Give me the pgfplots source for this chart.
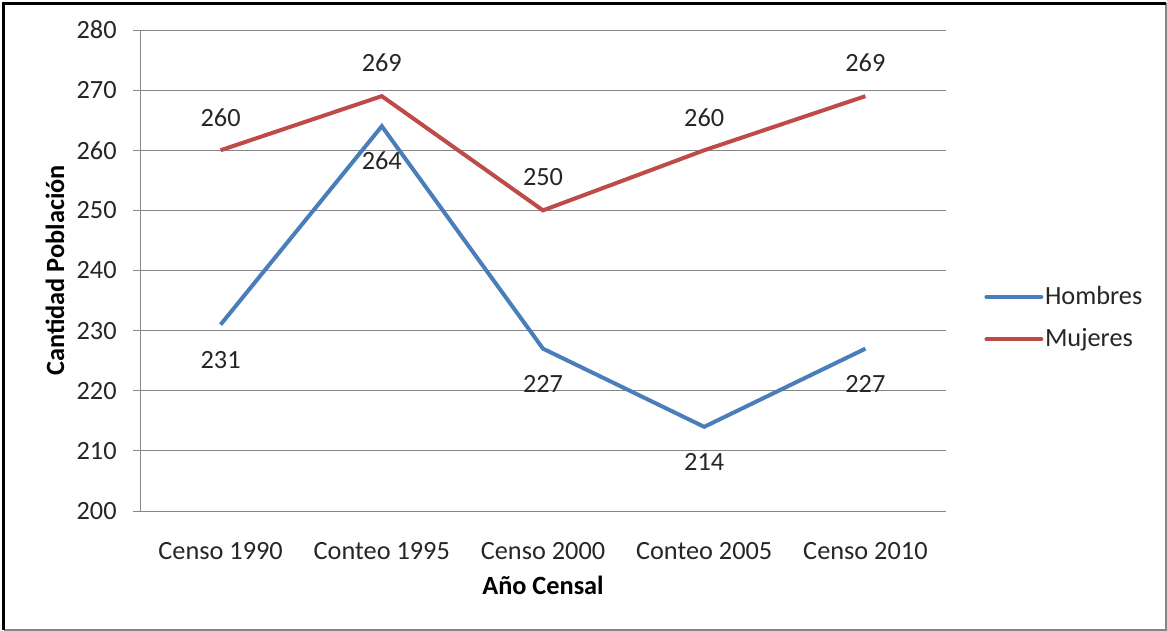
\documentclass[border=0pt]{standalone}
\usepackage{pgfplots}
\pgfplotsset{compat=1.18}
\usepackage{fontspec}
\setmainfont{Carlito}
\definecolor{sblue}{HTML}{4A7EBB}
\definecolor{sred}{HTML}{BE4B48}
\definecolor{gridgray}{HTML}{868686}
\begin{document}
\begin{tikzpicture}
\useasboundingbox (0,0) rectangle (583.5bp,315.5bp);
\fill[white] (0,0) rectangle (583.5bp,315.5bp);
\draw[gridgray, line width=0.8bp] (1.75bp,0.6bp) -- (582.9bp,0.6bp) -- (582.9bp,313.75bp);
\draw[black, line width=1.5bp] (1.75bp,0.6bp) -- (1.75bp,313.75bp) -- (582.9bp,313.75bp);
\begin{axis}[
  scale only axis,
  anchor=south west,
  at={(70bp,60bp)},
  width=403bp, height=240.5bp,
  font=\fontsize{13.2}{15.8}\selectfont,
  /pgf/number format/assume math mode=true,
  xmin=-0.5, xmax=4.5,
  ymin=200, ymax=280,
  ytick distance=10,
  xtick=data,
  xticklabels={Censo 1990,Conteo 1995,Censo 2000,Conteo 2005,Censo 2010},
  axis x line*=bottom,
  axis y line*=left,
  axis line style={gridgray, line width=0.5bp},
  ymajorgrids,
  major grid style={gridgray, line width=0.5bp},
  tick align=outside,
  major tick length=3.5bp,
  ytick style={gridgray, line width=0.5bp},
  xtick style={draw=none},
  yticklabel style={inner sep=0pt, anchor=east, xshift=-8bp, text=black!85},
  xticklabel style={inner sep=0pt, anchor=north, yshift=-12bp, text=black!85},
  xlabel={\bfseries Año Censal},
  ylabel={\bfseries Cantidad Población},
  xlabel style={at={(axis description cs:0.5,-0.1538)}, anchor=center, inner sep=0pt},
  ylabel style={at={(axis description cs:-0.1055,0.5)}, anchor=center, inner sep=0pt},
  legend style={at={(1,0.401)}, anchor=west, xshift=19bp, draw=none, fill=none,
    inner sep=0pt, row sep=9bp, font=\fontsize{13.2}{15.8}\selectfont,
    nodes={inner sep=0.8bp, anchor=west, text=black!85}},
  legend cell align=left,
  legend image code/.code={\draw[#1, line width=2bp, line cap=round] (0bp,0bp) -- (27.5bp,0bp);},
  nodes near coords,
  clip=false,
]
\addplot[sblue, line width=2bp, mark=none,
  every node near coord/.append style={anchor=center, yshift=-17.5bp, text=black!85, inner sep=0pt}]
  coordinates {(0,231) (1,264) (2,227) (3,214) (4,227)};
\addlegendentry{Hombres}
\addplot[sred, line width=2bp, mark=none,
  every node near coord/.append style={anchor=center, yshift=16.5bp, text=black!85, inner sep=0pt}]
  coordinates {(0,260) (1,269) (2,250) (3,260) (4,269)};
\addlegendentry{Mujeres}
\end{axis}
\end{tikzpicture}
\end{document}
